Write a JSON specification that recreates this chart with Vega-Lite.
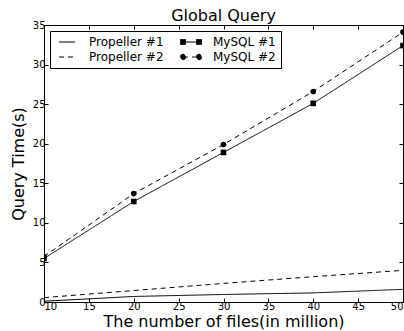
{
  "$schema": "https://vega.github.io/schema/vega-lite/v6.json",
  "width": 359,
  "height": 277,
  "autosize": {"type": "none"},
  "padding": {"left": 44, "top": 25, "right": 1, "bottom": 29},
  "background": "white",
  "title": {"text": "Global Query", "fontSize": 16, "fontWeight": "normal", "font": "DejaVu Sans", "color": "black", "offset": -4},
  "config": {
    "font": "DejaVu Sans",
    "view": {"stroke": "black", "strokeWidth": 1},
    "axis": {"grid": false, "domainColor": "black", "tickColor": "black", "labelColor": "black", "titleColor": "black", "labelFontSize": 10, "titleFontSize": 16, "titleFontWeight": "normal", "tickSize": -4, "labelPadding": 3}
  },
  "data": {"values": [
    {"n": 10, "t": 0.1, "s": "Propeller #1"},
    {"n": 20, "t": 0.7, "s": "Propeller #1"},
    {"n": 30, "t": 0.95, "s": "Propeller #1"},
    {"n": 40, "t": 1.15, "s": "Propeller #1"},
    {"n": 50, "t": 1.6, "s": "Propeller #1"},
    {"n": 10, "t": 0.55, "s": "Propeller #2"},
    {"n": 20, "t": 1.45, "s": "Propeller #2"},
    {"n": 30, "t": 2.35, "s": "Propeller #2"},
    {"n": 40, "t": 3.2, "s": "Propeller #2"},
    {"n": 50, "t": 4.0, "s": "Propeller #2"},
    {"n": 10, "t": 5.5, "s": "MySQL #1"},
    {"n": 20, "t": 12.7, "s": "MySQL #1"},
    {"n": 30, "t": 18.9, "s": "MySQL #1"},
    {"n": 40, "t": 25.1, "s": "MySQL #1"},
    {"n": 50, "t": 32.4, "s": "MySQL #1"},
    {"n": 10, "t": 5.75, "s": "MySQL #2"},
    {"n": 20, "t": 13.7, "s": "MySQL #2"},
    {"n": 30, "t": 19.9, "s": "MySQL #2"},
    {"n": 40, "t": 26.6, "s": "MySQL #2"},
    {"n": 50, "t": 34.1, "s": "MySQL #2"}
  ]},
  "layer": [
    {
      "mark": {"type": "line", "color": "black", "strokeWidth": 1, "clip": true},
      "encoding": {
        "x": {"field": "n", "type": "quantitative", "scale": {"domain": [10, 50], "nice": false, "zero": false}, "axis": {"values": [10, 15, 20, 25, 30, 35, 40, 45, 50], "title": "The number of files(in million)", "titlePadding": 2}},
        "y": {"field": "t", "type": "quantitative", "scale": {"domain": [0, 35], "nice": false}, "axis": {"values": [0, 5, 10, 15, 20, 25, 30, 35], "title": "Query Time(s)", "titlePadding": 6}},
        "strokeDash": {
          "field": "s", "type": "nominal",
          "scale": {"domain": ["Propeller #1", "Propeller #2", "MySQL #1", "MySQL #2"], "range": [[1, 0], [5, 4], [1, 0], [5, 4]]},
          "legend": {
            "title": null, "orient": "top-left", "offset": 6, "columns": 2, "columnPadding": 14, "rowPadding": 3,
            "padding": 5, "strokeColor": "black", "fillColor": "white", "cornerRadius": 0,
            "symbolSize": 100, "symbolStrokeWidth": 1, "symbolStrokeColor": "black", "symbolFillColor": "black",
            "labelFontSize": 12, "labelColor": "black", "labelOffset": 22, "labelFont": "DejaVu Sans",
            "encode": {"symbols": {"update": {"shape": {"signal": "datum.value === 'MySQL #1' ? 'M-0.4,0H2.8M-0.9,-0.5H0.1V0.5H-0.9ZM2.3,-0.5H3.3V0.5H2.3Z' : datum.value === 'MySQL #2' ? 'M-0.4,0H2.8M0.15,0A0.55,0.55 0 1 1 -0.95,0A0.55,0.55 0 1 1 0.15,0ZM3.35,0A0.55,0.55 0 1 1 2.25,0A0.55,0.55 0 1 1 3.35,0Z' : 'M-0.4,0H2.8'"}, "fill": {"value": "black"}, "stroke": {"value": "black"}}}}
          }
        }
      }
    },
    {
      "transform": [{"filter": "indexof(datum.s, 'MySQL') === 0"}],
      "mark": {"type": "point", "filled": true, "color": "black", "opacity": 1, "clip": true},
      "encoding": {
        "x": {"field": "n", "type": "quantitative", "scale": {"domain": [10, 50], "nice": false, "zero": false}, "axis": null},
        "y": {"field": "t", "type": "quantitative", "scale": {"domain": [0, 35], "nice": false}, "axis": null},
        "shape": {"field": "s", "type": "nominal", "scale": {"domain": ["MySQL #1", "MySQL #2"], "range": ["square", "circle"]}, "legend": null},
        "size": {"value": 32}
      }
    },
    {
      "mark": {"type": "point", "opacity": 0},
      "encoding": {
        "x": {"field": "n", "type": "quantitative", "scale": {"domain": [10, 50], "nice": false, "zero": false}, "axis": {"orient": "top", "values": [10, 15, 20, 25, 30, 35, 40, 45, 50], "labels": false, "title": null, "domain": false}},
        "y": {"field": "t", "type": "quantitative", "scale": {"domain": [0, 35], "nice": false}, "axis": {"orient": "right", "values": [0, 5, 10, 15, 20, 25, 30, 35], "labels": false, "title": null, "domain": false}}
      }
    }
  ],
  "resolve": {"scale": {"x": "independent", "y": "independent"}, "axis": {"x": "independent", "y": "independent"}}
}
